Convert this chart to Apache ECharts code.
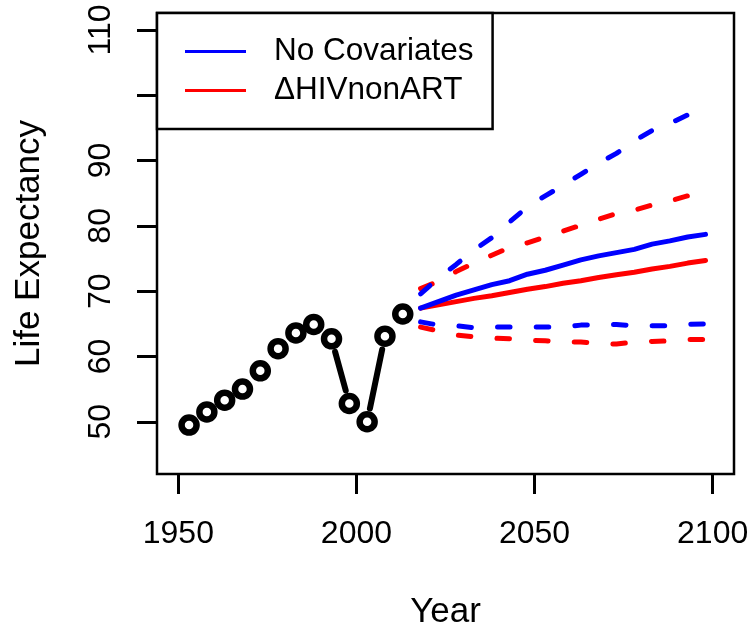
<!DOCTYPE html>
<html><head><meta charset="utf-8">
<script src="https://cdn.jsdelivr.net/npm/echarts@6/dist/echarts.min.js"></script>
<style>html,body{margin:0;padding:0;background:#fff}#c{width:752px;height:630px}</style>
</head><body><div id="c"></div>
<script>
// ---- data ----
const histYears = [1953,1958,1963,1968,1973,1978,1983,1988,1993,1998,2003,2008,2013];
const histLE = [49.5,51.5,53.3,55.0,57.8,61.2,63.6,64.9,62.7,52.8,50.0,63.1,66.5];
const projYears = [2018,2023,2028,2033,2038,2043,2048,2053,2058,2063,2068,2073,2078,2083,2088,2093,2098];
const noCovMedian = [67.4,68.4,69.4,70.2,71.0,71.6,72.6,73.2,74.0,74.8,75.4,75.9,76.4,77.2,77.7,78.3,78.7];
const noCovUpper  = [69.6,72.0,74.1,76.3,78.2,80.6,82.9,84.6,86.2,87.9,89.6,91.1,93.0,94.6,95.7,97.0,98.3];
const noCovLower  = [65.3,64.8,64.7,64.4,64.5,64.5,64.5,64.5,64.5,64.8,64.9,64.9,64.7,64.7,64.7,64.9,65.0];
const hivMedian   = [67.4,67.9,68.4,68.9,69.3,69.8,70.3,70.7,71.2,71.6,72.1,72.5,72.9,73.4,73.8,74.3,74.7];
const hivUpper    = [70.4,71.5,73.0,74.3,75.5,76.7,77.4,78.3,79.2,80.1,81.0,81.9,82.4,83.2,83.8,84.6,85.5];
const hivLower    = [64.5,63.9,63.3,63.0,62.8,62.7,62.5,62.4,62.2,62.2,62.0,61.9,62.2,62.3,62.4,62.6,62.6];
const xTicks = [1950,2000,2050,2100];
const yTicks = [50,60,70,80,90,100,110];
const yLabels = [50,60,70,80,90,110];
const seriesNames = ['No Covariates','\u0394HIVnonART'];

// ---- chart ----
const FONT = "'Liberation Sans', Arial, Helvetica, sans-serif";
const BLUE = '#0000ff', RED = '#ff0000';
const pairs = (xs, ys) => xs.map((x, i) => [x, ys[i]]);
const chart = echarts.init(document.getElementById('c'), null, {renderer: 'canvas'});

function dashed(name, vals, color) {
  return {
    name: name, type: 'line', data: pairs(projYears, vals), symbol: 'none',
    lineStyle: {color: color, width: 5, type: [12.5, 26.2], cap: 'round', join: 'round'},
    itemStyle: {color: color}, silent: true, z: 3
  };
}
function solid(name, vals, color) {
  return {
    name: name, type: 'line', data: pairs(projYears, vals), symbol: 'none',
    lineStyle: {color: color, width: 5, cap: 'round', join: 'round'},
    itemStyle: {color: color}, silent: true, z: 3
  };
}

const option = {
  animation: false,
  backgroundColor: '#fff',
  grid: {left: 157, right: 18, top: 13, bottom: 156, show: true, borderColor: '#000', borderWidth: 2.5, backgroundColor: 'transparent', containLabel: false, outerBoundsMode: 'none'},
  xAxis: {
    type: 'value', min: 1944, max: 2106,
    name: 'Year', nameLocation: 'middle', nameGap: 121,
    nameTextStyle: {fontSize: 35, color: '#000', fontFamily: FONT},
    axisLine: {show: false}, splitLine: {show: false},
    axisTick: {show: true, length: 20, customValues: xTicks, lineStyle: {color: '#000', width: 3}},
    axisLabel: {show: true, customValues: xTicks, fontSize: 32, color: '#000', fontFamily: FONT, margin: 44, formatter: v => String(v)}
  },
  yAxis: {
    type: 'value', min: 42.0, max: 112.6,
    name: 'Life Expectancy', nameLocation: 'middle', nameGap: 110,
    nameTextStyle: {fontSize: 35, color: '#000', fontFamily: FONT},
    axisLine: {show: false}, splitLine: {show: false},
    axisTick: {show: true, length: 20, customValues: yTicks, lineStyle: {color: '#000', width: 3}},
    axisLabel: {show: true, customValues: yLabels, rotate: 90, fontSize: 32, color: '#000', fontFamily: FONT, margin: 40, formatter: v => String(v)}
  },
  legend: {
    data: seriesNames, orient: 'vertical', left: 157, top: 13,
    icon: 'rect', itemWidth: 61, itemHeight: 3, itemGap: 0,
    padding: [19, 19, 19, 28], selectedMode: false,
    borderColor: '#000', borderWidth: 2.5, backgroundColor: '#fff', borderRadius: 0,
    textStyle: {fontSize: 31.5, color: '#000', fontFamily: FONT, lineHeight: 39, padding: [0, 0, 0, 23]}
  },
  series: [
    dashed('hivUpper', hivUpper, RED),
    dashed('hivLower', hivLower, RED),
    solid(seriesNames[1], hivMedian, RED),
    dashed('noCovUpper', noCovUpper, BLUE),
    dashed('noCovLower', noCovLower, BLUE),
    solid(seriesNames[0], noCovMedian, BLUE),
    {
      name: 'history', type: 'custom', silent: true, z: 4,
      data: pairs(histYears, histLE),
      renderItem: function (params, api) {
        const i = params.dataIndex;
        const p = api.coord([histYears[i], histLE[i]]);
        const children = [{type: 'circle', shape: {cx: p[0], cy: p[1], r: 7.5}, style: {fill: 'none', stroke: '#000', lineWidth: 6.5}}];
        if (i < histYears.length - 1) {
          const q = api.coord([histYears[i + 1], histLE[i + 1]]);
          const dx = q[0] - p[0], dy = q[1] - p[1], d = Math.hypot(dx, dy), g = 13.5;
          if (d > 2 * (g + 3) + 2) {
            children.push({type: 'line', shape: {x1: p[0] + dx * g / d, y1: p[1] + dy * g / d, x2: q[0] - dx * g / d, y2: q[1] - dy * g / d}, style: {stroke: '#000', lineWidth: 6, lineCap: 'round'}});
          }
        }
        return {type: 'group', children: children};
      }
    }
  ]
};
chart.setOption(option);
</script>
</body></html>
